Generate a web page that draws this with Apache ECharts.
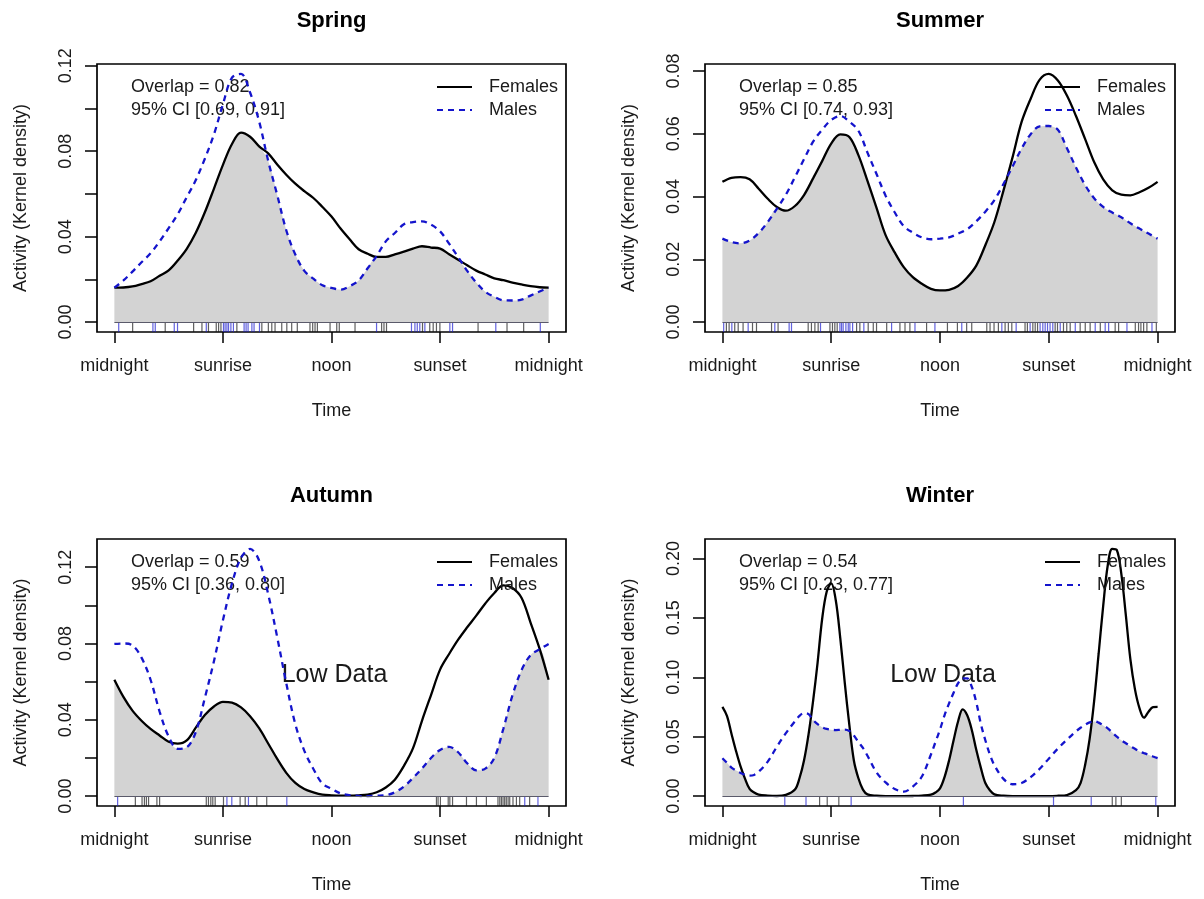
<!DOCTYPE html>
<html><head><meta charset="utf-8">
<script src="https://cdn.jsdelivr.net/npm/echarts@6/dist/echarts.min.js"></script>
<style>html,body{margin:0;padding:0;background:#fff}#c{width:1204px;height:899px}</style>
</head><body><div id="c"></div>
<script>
// ---------- data ----------
const seasons = ['Spring', 'Summer', 'Autumn', 'Winter'];
const timeTicks = [0, 6, 12, 18, 24];
const timeTickLabels = ['midnight', 'sunrise', 'noon', 'sunset', 'midnight'];
const overlapValues = ['0.82', '0.85', '0.59', '0.54'];
const ciLow = ['0.69', '0.74', '0.36', '0.23'];
const ciHigh = ['0.91', '0.93', '0.80', '0.77'];
const lowDataFlags = [false, false, true, true];

const springYTicks = [0, 0.02, 0.04, 0.06, 0.08, 0.10, 0.12];
const springYLabels = [0, 0.04, 0.08, 0.12];
const summerYTicks = [0, 0.02, 0.04, 0.06, 0.08];
const summerYLabels = [0, 0.02, 0.04, 0.06, 0.08];
const autumnYTicks = [0, 0.02, 0.04, 0.06, 0.08, 0.10, 0.12];
const autumnYLabels = [0, 0.04, 0.08, 0.12];
const winterYTicks = [0, 0.05, 0.10, 0.15, 0.20];
const winterYLabels = [0, 0.05, 0.10, 0.15, 0.20];

const halfHours = [0,0.5,1,1.5,2,2.5,3,3.5,4,4.5,5,5.5,6,6.5,7,7.5,8,8.5,9,9.5,10,10.5,11,11.5,12,
  12.5,13,13.5,14,14.5,15,15.5,16,16.5,17,17.5,18,18.5,19,19.5,20,20.5,21,21.5,22,22.5,23,23.5,24];

const springF = [.0161,.0162,.0167,.0178,.0191,.0217,.0242,.0288,.0343,.0418,.0514,.0624,.0736,.0834,.0887,.0868,.0823,.0790,.0738,.0690,.0648,.0613,.0581,.0539,.0494,.0438,.0388,.0341,.0320,.0305,.0305,.0317,.0330,.0344,.0355,.0349,.0344,.0318,.0292,.0266,.0241,.0223,.0205,.0196,.0185,.0176,.0168,.0163,.0161];
const springM = [.0161,.0195,.0236,.0280,.0322,.0378,.0440,.0505,.0585,.0665,.0765,.0878,.1020,.1145,.1162,.1075,.0940,.0755,.0595,.0430,.0316,.0240,.0203,.0172,.0160,.0152,.0168,.0195,.0252,.0310,.0378,.0417,.0458,.0468,.0472,.0456,.0425,.0367,.0304,.0240,.0185,.0142,.0118,.0102,.0101,.0105,.0124,.0143,.0161];

const summerF = [.0447,.0460,.0462,.0455,.0425,.0393,.0367,.0355,.0370,.0405,.0458,.0513,.0569,.0598,.0590,.0532,.0450,.0364,.0277,.0222,.0175,.0143,.0122,.0106,.0101,.0103,.0115,.0142,.0180,.0245,.0319,.0419,.0525,.0638,.0712,.0773,.0791,.0770,.0722,.0657,.0584,.0510,.0455,.0420,.0406,.0404,.0414,.0428,.0447];
const summerM = [.0266,.0255,.0251,.0260,.0284,.0319,.0361,.0406,.0462,.0519,.0575,.0613,.0644,.0657,.0639,.0610,.0540,.0472,.0403,.0350,.0306,.0285,.0270,.0264,.0266,.0270,.0282,.0296,.0321,.0352,.0389,.0440,.0496,.0553,.0599,.0624,.0625,.0613,.0554,.0493,.0437,.0395,.0367,.0349,.0334,.0315,.0298,.0282,.0266];

const autumnF = [.0610,.0520,.0448,.0395,.0352,.0318,.0285,.0275,.0292,.0359,.0425,.0470,.0494,.0490,.0465,.0419,.0356,.0276,.0195,.0122,.0069,.0037,.0020,.0008,.0004,.0002,.0002,.0004,.0008,.0020,.0045,.0086,.0158,.0250,.0395,.0530,.0663,.0745,.0820,.0885,.0946,.1010,.1065,.1105,.1091,.1040,.0910,.0773,.0610];
const autumnM = [.0798,.0800,.0790,.0726,.0610,.0443,.0312,.0248,.0256,.0336,.0515,.0706,.0922,.1115,.1249,.1296,.1235,.1059,.0833,.0592,.0377,.0237,.0142,.0065,.0039,.0014,.0005,.0001,.0000,.0002,.0005,.0020,.0050,.0095,.0145,.0200,.0242,.0258,.0230,.0172,.0135,.0144,.0201,.0354,.0528,.0660,.0739,.0770,.0798];

const winterHours = [0,0.25,0.5,0.75,1,1.25,1.5,1.75,2,2.5,3,3.5,4,4.25,4.5,4.75,5,5.25,5.5,5.75,6,6.25,6.5,6.75,7,7.25,7.5,7.75,8,
  8.5,9,9.5,10,10.5,11,11.5,11.75,12,12.25,12.5,12.75,13,13.25,13.5,13.75,14,14.25,14.5,14.75,15,
  15.5,16,16.5,17,17.5,18,18.5,19,19.5,19.75,20,20.25,20.5,20.75,21,21.25,21.5,21.75,22,22.25,22.5,22.75,23,23.25,23.5,23.75,24];
const winterF = [.0751,.0675,.0525,.0380,.0250,.0145,.0060,.0030,.0012,.0004,.0001,.0010,.0055,.0150,.0300,.0520,.0800,.1124,.1490,.1720,.1790,.1650,.1330,.0950,.0600,.0300,.0150,.0055,.0015,
  .0003,0,0,0,.0001,.0004,.0012,.0030,.0065,.0160,.0300,.0470,.0630,.0730,.0680,.0559,.0390,.0240,.0110,.0050,.0015,
  .0003,0,0,0,0,0,.0003,.0009,.0050,.0110,.0260,.0480,.0800,.1200,.1600,.1940,.2080,.2070,.1870,.1520,.1150,.0900,.0740,.0660,.0710,.0748,.0751];
const winterM = [.0319,.0280,.0240,.0215,.0195,.0180,.0172,.0178,.0205,.0290,.0415,.0530,.0630,.0675,.0700,.0690,.0640,.0605,.0580,.0565,.0558,.0556,.0558,.0560,.0548,.0510,.0455,.0405,.0340,
  .0200,.0115,.0060,.0038,.0080,.0165,.0350,.0455,.0560,.0680,.0780,.0870,.0950,.0990,.0990,.0920,.0790,.0610,.0470,.0350,.0260,
  .0145,.0100,.0110,.0160,.0230,.0315,.0400,.0475,.0545,.0575,.0600,.0620,.0630,.0618,.0595,.0570,.0535,.0500,.0470,.0445,.0420,.0398,.0376,.0362,.0348,.0333,.0319];

const springRugF = [1.01,2.81,4.38,4.84,5.20,5.63,5.76,5.89,6.77,8.15,8.51,8.70,8.88,9.25,9.53,9.80,10.11,10.81,10.96,11.09,11.22,11.92,12.29,12.43,13.30,14.77,14.90,15.04,17.03,17.43,17.62,17.80,17.99,20.10,21.70,22.62];
const springRugM = [0.24,2.13,2.26,3.31,3.49,5.08,6.03,6.12,6.22,6.31,6.44,6.58,7.17,7.28,7.39,7.60,7.72,8.02,14.49,16.42,16.61,16.74,16.88,17.16,18.54,18.69,21.08,23.54];
const summerRugF = [0.22,0.37,0.68,0.87,1.14,1.66,1.88,2.71,3.07,4.73,4.91,5.10,5.28,5.93,6.07,6.20,6.33,7.40,7.58,8.04,8.32,8.50,9.06,9.79,10.07,10.34,11.26,12.41,12.96,13.47,13.75,14.58,14.76,14.98,15.22,15.59,15.77,15.96,16.69,16.82,17.12,17.25,17.38,18.35,18.48,18.81,18.99,19.18,19.73,20.01,20.28,20.84,21.66,21.85,22.77,22.95,23.08,23.23,23.41,23.93];
const summerRugM = [0.07,0.52,1.42,2.89,3.68,3.81,5.41,6.48,6.57,6.66,6.81,6.94,7.03,7.18,7.80,9.33,10.62,11.72,13.20,15.41,16.20,16.97,17.52,17.67,17.80,17.93,18.07,18.22,18.63,19.46,20.56,21.11,21.30,22.31,23.69];
const autumnRugF = [1.16,1.53,1.66,1.77,1.89,2.35,2.50,5.08,5.20,5.33,5.44,5.57,6.03,6.95,7.23,7.87,8.42,17.80,17.89,18.02,18.45,18.54,18.69,19.46,20.01,20.56,21.20,21.30,21.39,21.48,21.57,21.66,21.76,21.85,22.03,22.22,22.40,22.95];
const autumnRugM = [0.18,6.22,6.49,7.41,9.53,22.68,23.41];
const winterRugF = [5.36,5.78,6.42,21.50,21.70,22.00];
const winterRugM = [3.44,4.61,7.10,13.29,18.26,20.34,23.90];

// ---------- layout / style ----------
const FONT = '"Liberation Sans", Arial, Helvetica, sans-serif';
const TXT = '#1a1a1a';
const BLUE = '#1414cc';
const boxes = [
  {left: 97, top: 64, width: 469, height: 268},
  {left: 705, top: 64, width: 470, height: 268},
  {left: 97, top: 539, width: 469, height: 267},
  {left: 705, top: 539, width: 470, height: 267}
];

const panels = [
  {hours: halfHours, F: springF, M: springM, rugF: springRugF, rugM: springRugM, yTicks: springYTicks, yLabels: springYLabels},
  {hours: halfHours, F: summerF, M: summerM, rugF: summerRugF, rugM: summerRugM, yTicks: summerYTicks, yLabels: summerYLabels},
  {hours: halfHours, F: autumnF, M: autumnM, rugF: autumnRugF, rugM: autumnRugM, yTicks: autumnYTicks, yLabels: autumnYLabels},
  {hours: winterHours, F: winterF, M: winterM, rugF: winterRugF, rugM: winterRugM, yTicks: winterYTicks, yLabels: winterYLabels}
];

const grid = [], xAxis = [], yAxis = [], series = [], legend = [], graphic = [];

panels.forEach((p, i) => {
  const b = boxes[i];
  grid.push({left: b.left, top: b.top, width: b.width, height: b.height, show: true,
    borderColor: '#000', borderWidth: 1.7, backgroundColor: 'transparent'});
  const ymax = Math.max(...p.F, ...p.M);
  xAxis.push({
    gridIndex: i, type: 'value', min: -0.96, max: 24.96,
    axisLine: {show: false, onZero: false}, splitLine: {show: false},
    axisTick: {show: true, customValues: timeTicks, length: 11, lineStyle: {color: '#000', width: 1.5}},
    axisLabel: {show: true, customValues: timeTicks, margin: 25, fontSize: 18, fontFamily: FONT, color: TXT,
      formatter: v => timeTickLabels[timeTicks.indexOf(v)]},
    name: 'Time', nameLocation: 'middle', nameGap: 70,
    nameTextStyle: {fontSize: 18, fontFamily: FONT, color: TXT}
  });
  yAxis.push({
    gridIndex: i, type: 'value', min: -0.04 * ymax, max: 1.04 * ymax,
    axisLine: {show: false, onZero: false}, splitLine: {show: false},
    axisTick: {show: true, customValues: p.yTicks, length: 12, lineStyle: {color: '#000', width: 1.5}},
    axisLabel: {show: true, customValues: p.yLabels, rotate: 90, margin: 22, fontSize: 18, fontFamily: FONT, color: TXT,
      formatter: v => v.toFixed(2)},
    name: 'Activity (Kernel density)', nameLocation: 'middle', nameGap: 67, nameRotate: 90,
    nameTextStyle: {fontSize: 18, fontFamily: FONT, color: TXT}
  });
  const ol = p.hours.map((h, k) => [h, Math.min(p.F[k], p.M[k])]);
  series.push({
    name: 'overlap' + i, type: 'line', xAxisIndex: i, yAxisIndex: i, data: ol,
    smooth: 0.35, symbol: 'none', silent: true, z: 1,
    lineStyle: {width: 0}, areaStyle: {color: '#d3d3d3', opacity: 1},
    markLine: {silent: true, symbol: 'none', label: {show: false}, animation: false,
      lineStyle: {color: '#5a5a6a', width: 1, type: 'solid'},
      data: [[{coord: [0, 0]}, {coord: [24, 0]}]]}
  });
  series.push({
    name: 'rugF' + i, type: 'scatter', xAxisIndex: i, yAxisIndex: i, silent: true, z: 2,
    data: p.rugF.map(h => [h, 0]), symbol: 'rect', symbolSize: [1.2, 10], symbolOffset: [0, 5],
    itemStyle: {color: 'rgba(20,20,20,0.85)'}
  });
  series.push({
    name: 'rugM' + i, type: 'scatter', xAxisIndex: i, yAxisIndex: i, silent: true, z: 2,
    data: p.rugM.map(h => [h, 0]), symbol: 'rect', symbolSize: [1.2, 10], symbolOffset: [0, 5],
    itemStyle: {color: 'rgba(25,25,205,0.85)'}
  });
  series.push({
    name: 'Females', type: 'line', xAxisIndex: i, yAxisIndex: i,
    data: p.hours.map((h, k) => [h, p.F[k]]), smooth: 0.35, symbol: 'none', z: 3,
    lineStyle: {color: '#000', width: 2.3}, itemStyle: {color: '#000'}
  });
  series.push({
    name: 'Males', type: 'line', xAxisIndex: i, yAxisIndex: i,
    data: p.hours.map((h, k) => [h, p.M[k]]), smooth: 0.35, symbol: 'none', z: 4,
    lineStyle: {color: BLUE, width: 2.3, type: [6, 5]}, itemStyle: {color: BLUE}
  });
  legend.push({
    data: ['Females', 'Males'], orient: 'vertical', selectedMode: false,
    left: b.left + 334, top: b.top + 9, itemWidth: 35, itemHeight: 14, itemGap: 5,
    itemStyle: {opacity: 0},
    textStyle: {fontSize: 18, fontFamily: FONT, color: TXT, padding: [0, 0, 0, 12]}
  });
  const cx = b.left + b.width / 2;
  graphic.push({type: 'text', x: cx, y: b.top - 43, silent: true,
    style: {text: seasons[i], font: 'bold 22px ' + FONT, fill: '#000',
      align: 'center', verticalAlign: 'middle', textAlign: 'center', textVerticalAlign: 'middle'}});
  graphic.push({type: 'text', x: b.left + 34, y: b.top + 12, silent: true,
    style: {text: 'Overlap = ' + overlapValues[i] + '\n95% CI [' + ciLow[i] + ', ' + ciHigh[i] + ']',
      font: '18px ' + FONT, fill: TXT, lineHeight: 23,
      align: 'left', verticalAlign: 'top', textAlign: 'left', textVerticalAlign: 'top'}});
  if (lowDataFlags[i]) {
    graphic.push({type: 'text', x: cx + 3, y: b.top + 136, silent: true,
      style: {text: 'Low Data', font: '25px ' + FONT, fill: TXT,
        align: 'center', verticalAlign: 'middle', textAlign: 'center', textVerticalAlign: 'middle'}});
  }
});

const chart = echarts.init(document.getElementById('c'), null, {renderer: 'canvas'});
chart.setOption({
  animation: false, backgroundColor: '#fff',
  textStyle: {fontFamily: FONT},
  grid, xAxis, yAxis, series, legend, graphic
});
</script></body></html>
